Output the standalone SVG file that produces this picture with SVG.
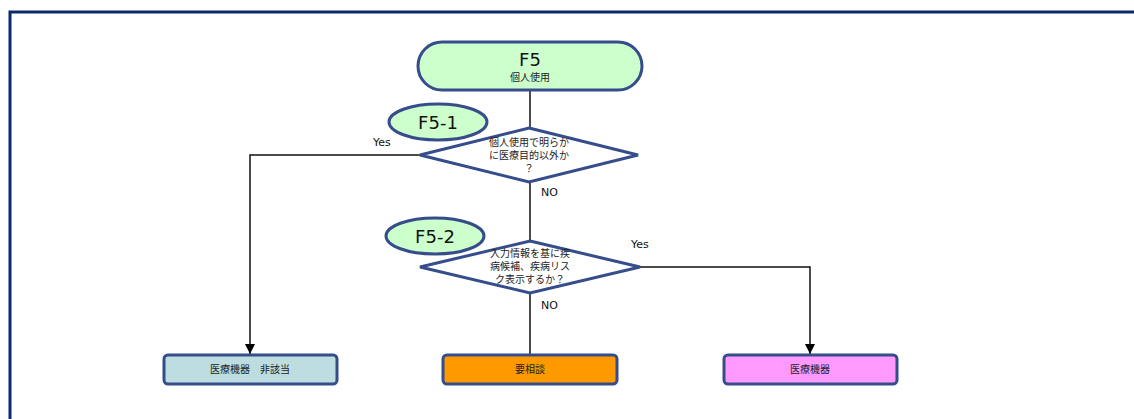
<svg xmlns="http://www.w3.org/2000/svg" width="1134" height="419" viewBox="0 0 1134 419">
<style>
.frame{fill:none;stroke:#0b2a6b;stroke-width:3}
.node{stroke:#354d8a;stroke-width:3}
.green{fill:#ccffcc}
.con{fill:none;stroke:#111;stroke-width:1.5}
.t{font-family:"DejaVu Sans","Noto Sans CJK JP",sans-serif;fill:#111;text-anchor:middle}
.jp{font-family:"Noto Sans CJK JP",sans-serif;font-size:10px;fill:#222;text-anchor:middle}
.lbl{font-family:"DejaVu Sans",sans-serif;font-size:11px;fill:#111}
</style>
<defs>
<marker id="arr" markerWidth="10" markerHeight="10" refX="5" refY="9" orient="auto" markerUnits="userSpaceOnUse" viewBox="0 0 10 10">
<path d="M0,0 L10,0 L5,10 Z" fill="#000" transform="rotate(-90 5 5)"/>
</marker>
<marker id="ah" markerWidth="10" markerHeight="12" refX="10" refY="5" orient="auto" markerUnits="userSpaceOnUse" viewBox="0 0 10 10">
<path d="M0,0 L10,5 L0,10 Z" fill="#000"/>
</marker>
</defs>
<rect width="1134" height="419" fill="#fff"/>
<path class="frame" d="M10,425 L10,12 L1140,12"/>
<g id="connectors">
<line class="con" x1="530" y1="90" x2="530" y2="128"/>
<polyline class="con" points="420,155 250,155 250,354" marker-end="url(#ah)"/>
<line class="con" x1="530" y1="182" x2="530" y2="241"/>
<polyline class="con" points="640,267 810,267 810,354" marker-end="url(#ah)"/>
<line class="con" x1="530" y1="293" x2="530" y2="355"/>
<text class="lbl" x="373" y="146">Yes</text>
<text class="lbl" x="541" y="196">NO</text>
<text class="lbl" x="631" y="248">Yes</text>
<text class="lbl" x="541" y="309">NO</text>
</g>
<g id="start">
<rect class="node green" x="418" y="42" width="224" height="48" rx="24"/>
<text class="t" x="530" y="66" font-size="18">F5</text>
<text class="jp" x="530" y="81">個人使用</text>
</g>
<g id="f5-1">
<ellipse class="node green" cx="438" cy="122" rx="49" ry="18"/>
<text class="t" x="438" y="129" font-size="18">F5-1</text>
</g>
<g id="d1">
<polygon class="node" fill="#fff" points="529,128 638,155 529,182 420,155"/>
<text class="jp" x="529" y="146">個人使用で明らか</text>
<text class="jp" x="529" y="159">に医療目的以外か</text>
<text class="jp" x="529" y="172">？</text>
</g>
<g id="f5-2">
<ellipse class="node green" cx="435" cy="236" rx="49" ry="18"/>
<text class="t" x="435" y="243" font-size="18">F5-2</text>
</g>
<g id="d2">
<polygon class="node" fill="#fff" points="530,241 640,267 530,293 420,267"/>
<text class="jp" x="530" y="257">入力情報を基に疾</text>
<text class="jp" x="530" y="270">病候補、疾病リス</text>
<text class="jp" x="530" y="283">ク表示するか？</text>
</g>
<g id="b1">
<rect class="node" fill="#bddde0" x="164" y="355" width="173" height="29" rx="4"/>
<text class="jp" x="250" y="373">医療機器　非該当</text>
</g>
<g id="b2">
<rect class="node" fill="#ff9900" x="443" y="355" width="174" height="29" rx="4"/>
<text class="jp" x="530" y="373">要相談</text>
</g>
<g id="b3">
<rect class="node" fill="#ff99ff" x="724" y="355" width="173" height="29" rx="4"/>
<text class="jp" x="810" y="373">医療機器</text>
</g>
</svg>
